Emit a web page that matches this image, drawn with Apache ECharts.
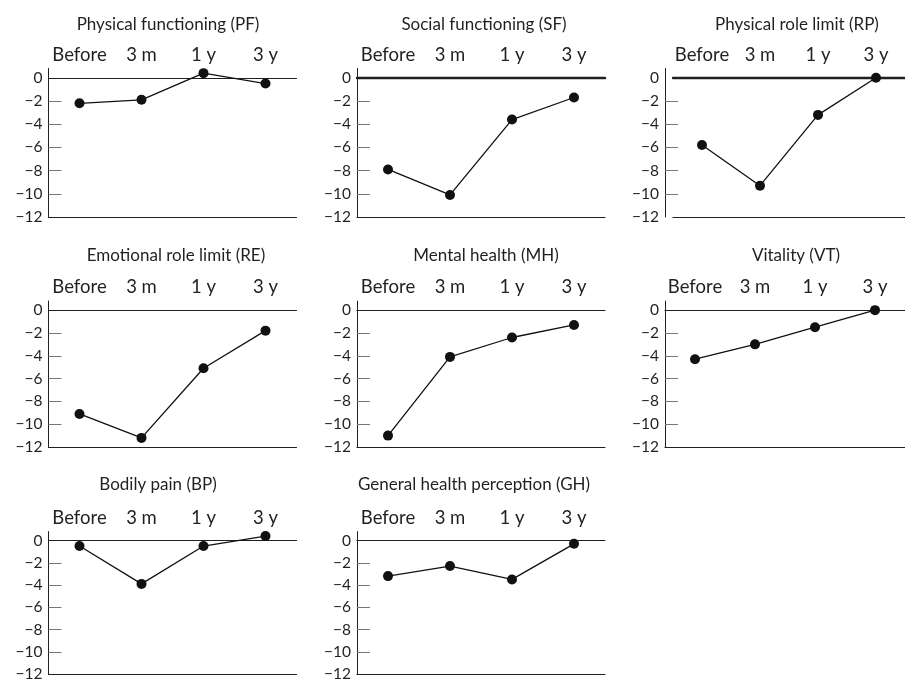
<!DOCTYPE html>
<html>
<head>
<meta charset="utf-8">
<script src="https://cdn.jsdelivr.net/npm/echarts@6/dist/echarts.min.js"></script>
<style>html,body{margin:0;padding:0;background:#fff}#c{width:905px;height:682px}</style>
</head>
<body>
<div id="c"></div>
<script>
// ---- data ----
const categories = ['Before', '3 m', '1 y', '3 y'];
const titles = [
  'Physical functioning (PF)', 'Social functioning (SF)', 'Physical role limit (RP)',
  'Emotional role limit (RE)', 'Mental health (MH)', 'Vitality (VT)',
  'Bodily pain (BP)', 'General health perception (GH)'
];
const PF = [-2.2, -1.9, 0.4, -0.5];
const SF = [-7.9, -10.1, -3.6, -1.7];
const RP = [-5.8, -9.3, -3.2, 0.0];
const RE = [-9.1, -11.2, -5.1, -1.8];
const MH = [-11.0, -4.1, -2.4, -1.3];
const VT = [-4.3, -3.0, -1.5, 0.0];
const BP = [-0.5, -3.9, -0.5, 0.4];
const GH = [-3.2, -2.3, -3.5, -0.3];
const seriesData = [PF, SF, RP, RE, MH, VT, BP, GH];
const yLabelValues = [-12, -10, -8, -6, -4, -2, 0];
const yTickValues = [-10, -8, -6, -4, -2];
const yMin = -12, yMax = 0.8;

// ---- layout (positions / styles) ----
const rows = [
  {top: 68.5, height: 148.5, titleTop: 11},
  {top: 301, height: 146, titleTop: 242},
  {top: 531.6, height: 145.4, titleTop: 471}
];
const layout = [
  {row: 0, left: 48.5, width: 248, off: 0, tx: 163, zw: 1.2},
  {row: 0, left: 357, width: 248, off: 0, tx: 479, zw: 2.4},
  {row: 0, left: 673, width: 248, off: 8, tx: 792, zw: 2.4},
  {row: 1, left: 48.5, width: 248, off: 0, tx: 171, zw: 1.2},
  {row: 1, left: 357, width: 248, off: 0, tx: 481, zw: 1.2},
  {row: 1, left: 665, width: 246, off: 0, tx: 791, zw: 1.2},
  {row: 2, left: 48.5, width: 248, off: 0, tx: 153, zw: 1.2},
  {row: 2, left: 357, width: 248, off: 0, tx: 469, zw: 1.2}
];

const FONT = 'Lato';
const INK = '#231f20';
const fmt = v => (v < 0 ? '\u2212' + (-v) : String(v));

const grid = [], xAxis = [], yAxis = [], series = [], title = [];
layout.forEach((L, i) => {
  const R = rows[L.row];
  grid.push({left: L.left, top: R.top, width: L.width, height: R.height, containLabel: false});
  title.push({
    text: titles[i], left: L.tx, top: R.titleTop, textAlign: 'center',
    textStyle: {fontFamily: FONT, fontSize: 17, fontWeight: 'normal', color: INK}
  });
  // top category axis sitting on zero
  xAxis.push({
    type: 'category', gridIndex: i, data: categories, position: 'top', boundaryGap: true,
    axisLine: {show: true, onZero: true, lineStyle: {color: INK, width: L.zw}},
    axisTick: {show: false},
    axisLabel: {show: true, fontFamily: FONT, fontSize: 18.5, color: INK, margin: 4, interval: 0},
    splitLine: {show: false}
  });
  // bottom frame line
  xAxis.push({
    type: 'category', gridIndex: i, data: categories, position: 'bottom', boundaryGap: true,
    axisLine: {show: true, onZero: false, lineStyle: {color: INK, width: 1.2}},
    axisTick: {show: false}, axisLabel: {show: false}, splitLine: {show: false}
  });
  yAxis.push({
    type: 'value', gridIndex: i, min: yMin, max: yMax, offset: L.off,
    axisLine: {show: true, onZero: false, lineStyle: {color: INK, width: 1}},
    axisTick: {show: true, inside: true, length: 13, customValues: yTickValues,
               lineStyle: {color: '#777', width: 1}},
    axisLabel: {show: true, customValues: yLabelValues, formatter: fmt,
                fontFamily: FONT, fontSize: 15.5, color: INK, margin: 6},
    splitLine: {show: false}
  });
  series.push({
    type: 'line', xAxisIndex: 2 * i, yAxisIndex: i, data: seriesData[i],
    symbol: 'circle', symbolSize: 10, showSymbol: true,
    lineStyle: {color: '#111', width: 1.3},
    itemStyle: {color: '#111'},
    z: 5, animation: false
  });
});

const chart = echarts.init(document.getElementById('c'), null, {renderer: 'canvas'});
chart.setOption({animation: false, title, grid, xAxis, yAxis, series});
</script>
</body>
</html>
